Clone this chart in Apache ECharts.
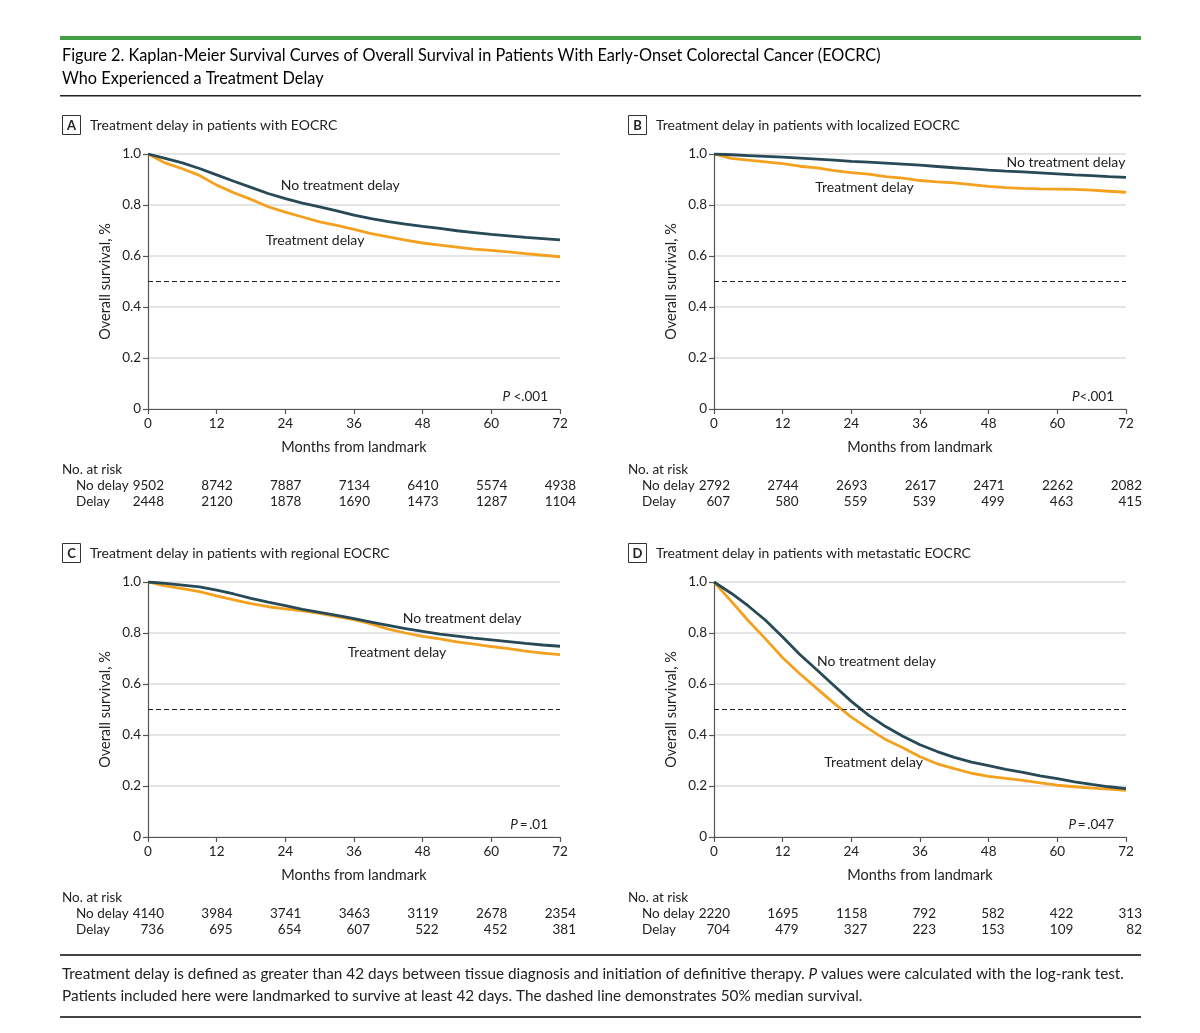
<!DOCTYPE html>
<html lang="en">
<head>
<meta charset="UTF-8">
<title>Figure 2</title>
<script src="https://cdn.jsdelivr.net/npm/echarts@6/dist/echarts.min.js"></script>
<style>
    html, body { margin: 0; padding: 0; background: #fff; }
    #main { width: 1200px; height: 1033px; }
</style>
</head>
<body>
<div id="main"></div>
<script type="text/javascript">
    var months = [0, 3, 6, 9, 12, 15, 18, 21, 24, 27, 30, 33, 36, 39, 42, 45, 48, 51, 54, 57, 60, 63, 66, 69, 72];
    var ticks = [0, 12, 24, 36, 48, 60, 72];

    // A - all EOCRC
    var noDelayA = [1, 0.983, 0.965, 0.943, 0.918, 0.893, 0.869, 0.845, 0.825, 0.807, 0.793, 0.777, 0.76, 0.747, 0.735, 0.725, 0.716, 0.708, 0.699, 0.692, 0.685, 0.679, 0.673, 0.668, 0.663];
    var delayA = [1, 0.965, 0.942, 0.916, 0.878, 0.848, 0.822, 0.793, 0.772, 0.753, 0.734, 0.72, 0.704, 0.688, 0.675, 0.662, 0.651, 0.643, 0.635, 0.627, 0.622, 0.616, 0.609, 0.603, 0.597];
    // B - localized
    var noDelayB = [1, 0.997, 0.994, 0.991, 0.988, 0.984, 0.98, 0.976, 0.971, 0.968, 0.964, 0.96, 0.956, 0.951, 0.946, 0.942, 0.937, 0.933, 0.93, 0.926, 0.922, 0.918, 0.915, 0.911, 0.908];
    var delayB = [1, 0.983, 0.976, 0.969, 0.962, 0.952, 0.946, 0.935, 0.927, 0.921, 0.911, 0.905, 0.896, 0.891, 0.887, 0.88, 0.873, 0.868, 0.865, 0.863, 0.862, 0.861, 0.858, 0.854, 0.85];
    // C - regional
    var noDelayC = [1, 0.995, 0.988, 0.981, 0.968, 0.953, 0.936, 0.921, 0.907, 0.893, 0.881, 0.869, 0.856, 0.843, 0.83, 0.817, 0.806, 0.796, 0.788, 0.78, 0.773, 0.766, 0.759, 0.753, 0.748];
    var delayC = [1, 0.985, 0.974, 0.962, 0.946, 0.93, 0.915, 0.903, 0.895, 0.887, 0.877, 0.864, 0.852, 0.836, 0.815, 0.8, 0.787, 0.777, 0.765, 0.756, 0.747, 0.739, 0.729, 0.721, 0.715];
    // D - metastatic
    var noDelayD = [1, 0.956, 0.906, 0.85, 0.784, 0.716, 0.655, 0.593, 0.532, 0.478, 0.433, 0.395, 0.362, 0.335, 0.312, 0.294, 0.28, 0.265, 0.253, 0.24, 0.229, 0.216, 0.206, 0.197, 0.19];
    var delayD = [1, 0.925, 0.848, 0.777, 0.703, 0.64, 0.582, 0.524, 0.47, 0.425, 0.382, 0.35, 0.315, 0.287, 0.268, 0.25, 0.238, 0.23, 0.222, 0.212, 0.203, 0.197, 0.192, 0.188, 0.183];

    // number at risk
    var riskNoDelayA = [9502, 8742, 7887, 7134, 6410, 5574, 4938];
    var riskDelayA = [2448, 2120, 1878, 1690, 1473, 1287, 1104];
    var riskNoDelayB = [2792, 2744, 2693, 2617, 2471, 2262, 2082];
    var riskDelayB = [607, 580, 559, 539, 499, 463, 415];
    var riskNoDelayC = [4140, 3984, 3741, 3463, 3119, 2678, 2354];
    var riskDelayC = [736, 695, 654, 607, 522, 452, 381];
    var riskNoDelayD = [2220, 1695, 1158, 792, 582, 422, 313];
    var riskDelayD = [704, 479, 327, 223, 153, 109, 82];

    var panelLetters = ['A', 'B', 'C', 'D'];
    var panelTitles = [
        'Treatment delay in patients with EOCRC',
        'Treatment delay in patients with localized EOCRC',
        'Treatment delay in patients with regional EOCRC',
        'Treatment delay in patients with metastatic EOCRC'
    ];
    var pValues = [' <.001', '<.001', '\u2009=\u2009.01', '\u2009=\u2009.047'];

    var noDelay = [noDelayA, noDelayB, noDelayC, noDelayD];
    var delay = [delayA, delayB, delayC, delayD];
    var riskNoDelay = [riskNoDelayA, riskNoDelayB, riskNoDelayC, riskNoDelayD];
    var riskDelay = [riskDelayA, riskDelayB, riskDelayC, riskDelayD];

    // where the curve names sit, in (month, survival)
    var nameSpots = [
        [[33.6, 0.878], [29.2, 0.659]],
        [[61.5, 0.965], [26.3, 0.867]],
        [[54.9, 0.855], [43.5, 0.725]],
        [[28.4, 0.69], [27.9, 0.294]]
    ];

    var FONT = 'Lato';
    var DARK = '#274a56';
    var ORANGE = '#f4a11f';
    var lefts = [148, 714, 148, 714];
    var tops = [154, 154, 582, 582];
    var W = 412, H = 255;

    function pairs(arr) {
        var out = [];
        for (var i = 0; i < arr.length; i++) out.push([months[i], arr[i]]);
        return out;
    }

    var grids = [], xAxes = [], yAxes = [], series = [], graphics = [];

    for (var p = 0; p < 4; p++) {
        grids.push({left: lefts[p], top: tops[p], width: W, height: H});

        xAxes.push({
            type: 'value', gridIndex: p, min: 0, max: 72, interval: 12,
            name: 'Months from landmark', nameLocation: 'middle', nameGap: 31,
            nameTextStyle: {fontFamily: FONT, fontSize: 14.5, color: '#222'},
            axisLine: {lineStyle: {color: '#555', width: 1.2}},
            axisTick: {length: 5, lineStyle: {color: '#555', width: 1.2}},
            axisLabel: {fontFamily: FONT, fontSize: 13.5, color: '#222', margin: 8},
            splitLine: {show: false}
        });
        // the two risk-table rows, hung off the same scale
        [riskNoDelay[p], riskDelay[p]].forEach(function (row, r) {
            xAxes.push({
                type: 'value', gridIndex: p, min: 0, max: 72, interval: 12,
                position: 'bottom', offset: 70 + r * 16,
                axisLine: {show: false}, axisTick: {show: false}, splitLine: {show: false},
                axisLabel: {
                    margin: 0,
                    formatter: function (v) { return '{n|' + row[v / 12] + '}'; },
                    rich: {n: {width: 32, align: 'right', fontFamily: FONT, fontSize: 13.5, color: '#222'}}
                }
            });
        });

        yAxes.push({
            type: 'value', gridIndex: p, min: 0, max: 1, interval: 0.2,
            name: 'Overall survival, %', nameLocation: 'middle', nameGap: 35,
            nameTextStyle: {fontFamily: FONT, fontSize: 14.5, color: '#222'},
            axisLine: {show: true, lineStyle: {color: '#555', width: 1.2}},
            axisTick: {show: true, length: 5, lineStyle: {color: '#555', width: 1.2}},
            axisLabel: {
                fontFamily: FONT, fontSize: 13.5, color: '#222', margin: 7,
                formatter: function (v) { return v === 0 ? '0' : v.toFixed(1); }
            },
            splitLine: {lineStyle: {color: '#dcdcdc', width: 1.5}}
        });

        series.push({
            type: 'line', xAxisIndex: p * 3, yAxisIndex: p,
            data: pairs(delay[p]), showSymbol: false, z: 3,
            lineStyle: {color: ORANGE, width: 2.8},
            markLine: {
                silent: true, symbol: ['none', 'none'], label: {show: false},
                lineStyle: {color: '#222', type: [5, 3], width: 1.2},
                data: [{yAxis: 0.5}]
            }
        });
        series.push({
            type: 'line', xAxisIndex: p * 3, yAxisIndex: p,
            data: pairs(noDelay[p]), showSymbol: false, z: 4,
            lineStyle: {color: DARK, width: 2.8}
        });

        // panel heading
        var hy = tops[p] - 29;
        var hx = lefts[p] - 148;
        graphics.push({type: 'rect', shape: {x: 62.5 + hx, y: hy - 9.5, width: 18, height: 19}, style: {fill: '#fff', stroke: '#333', lineWidth: 1}});
        graphics.push({type: 'text', x: 71.5 + hx, y: hy + 0.5, style: {text: panelLetters[p], font: 'bold 13px ' + FONT, fill: '#222', textAlign: 'center', textVerticalAlign: 'middle'}});
        graphics.push({type: 'text', x: 90 + hx, y: hy, style: {text: panelTitles[p], font: '14px ' + FONT, fill: '#222', textVerticalAlign: 'middle'}});

        // P value
        graphics.push({
            type: 'text', x: lefts[p] + W - 12, y: tops[p] + H - 12,
            style: {
                text: '{i|P}{n|' + pValues[p] + '}', textAlign: 'right', textVerticalAlign: 'middle',
                rich: {i: {font: 'italic 13.5px ' + FONT, fill: '#222'}, n: {font: '13.5px ' + FONT, fill: '#222'}}
            }
        });

        // risk table row titles
        var ry = tops[p] + H + 61;
        var rx = lefts[p] - 86;
        graphics.push({type: 'text', x: rx, y: ry, style: {text: 'No. at risk', font: '13.5px ' + FONT, fill: '#222', textVerticalAlign: 'middle'}});
        graphics.push({type: 'text', x: rx + 14, y: ry + 16, style: {text: 'No delay', font: '13.5px ' + FONT, fill: '#222', textVerticalAlign: 'middle'}});
        graphics.push({type: 'text', x: rx + 14, y: ry + 32, style: {text: 'Delay', font: '13.5px ' + FONT, fill: '#222', textVerticalAlign: 'middle'}});
    }

    // frame: rules, title, footnote
    graphics.push({type: 'rect', shape: {x: 60, y: 36, width: 1081, height: 4}, style: {fill: '#43a047'}});
    graphics.push({type: 'text', x: 62, y: 56, style: {text: 'Figure 2. Kaplan-Meier Survival Curves of Overall Survival in Patients With Early-Onset Colorectal Cancer (EOCRC)', font: '16.3px ' + FONT, fill: '#000', textVerticalAlign: 'middle'}});
    graphics.push({type: 'text', x: 62, y: 79, style: {text: 'Who Experienced a Treatment Delay', font: '16.3px ' + FONT, fill: '#000', textVerticalAlign: 'middle'}});
    graphics.push({type: 'rect', shape: {x: 60, y: 95, width: 1081, height: 1.5}, style: {fill: '#222'}});
    graphics.push({type: 'rect', shape: {x: 60, y: 954, width: 1081, height: 2}, style: {fill: '#444'}});
    graphics.push({
        type: 'text', x: 62, y: 974,
        style: {
            text: 'Treatment delay is defined as greater than 42 days between tissue diagnosis and initiation of definitive therapy. {i|P} values were calculated with the log-rank test.',
            font: '15.3px ' + FONT, fill: '#222', textVerticalAlign: 'middle',
            rich: {i: {font: 'italic 15.3px ' + FONT, fill: '#222'}}
        }
    });
    graphics.push({type: 'text', x: 62, y: 996, style: {text: 'Patients included here were landmarked to survive at least 42 days. The dashed line demonstrates 50% median survival.', font: '15.3px ' + FONT, fill: '#222', textVerticalAlign: 'middle'}});
    graphics.push({type: 'rect', shape: {x: 60, y: 1016, width: 1081, height: 2}, style: {fill: '#444'}});

    var myChart = echarts.init(document.getElementById('main'));
    myChart.setOption({
        animation: false,
        grid: grids,
        xAxis: xAxes,
        yAxis: yAxes,
        series: series,
        graphic: graphics
    });

    // curve names placed in data coordinates
    var names = [];
    for (var q = 0; q < 4; q++) {
        ['No treatment delay', 'Treatment delay'].forEach(function (txt, k) {
            var pt = myChart.convertToPixel({gridIndex: q}, nameSpots[q][k]);
            names.push({type: 'text', x: pt[0], y: pt[1], style: {text: txt, font: '14px ' + FONT, fill: '#222', textAlign: 'center', textVerticalAlign: 'middle'}});
        });
    }
    myChart.setOption({graphic: graphics.concat(names)});
</script>
</body>
</html>
